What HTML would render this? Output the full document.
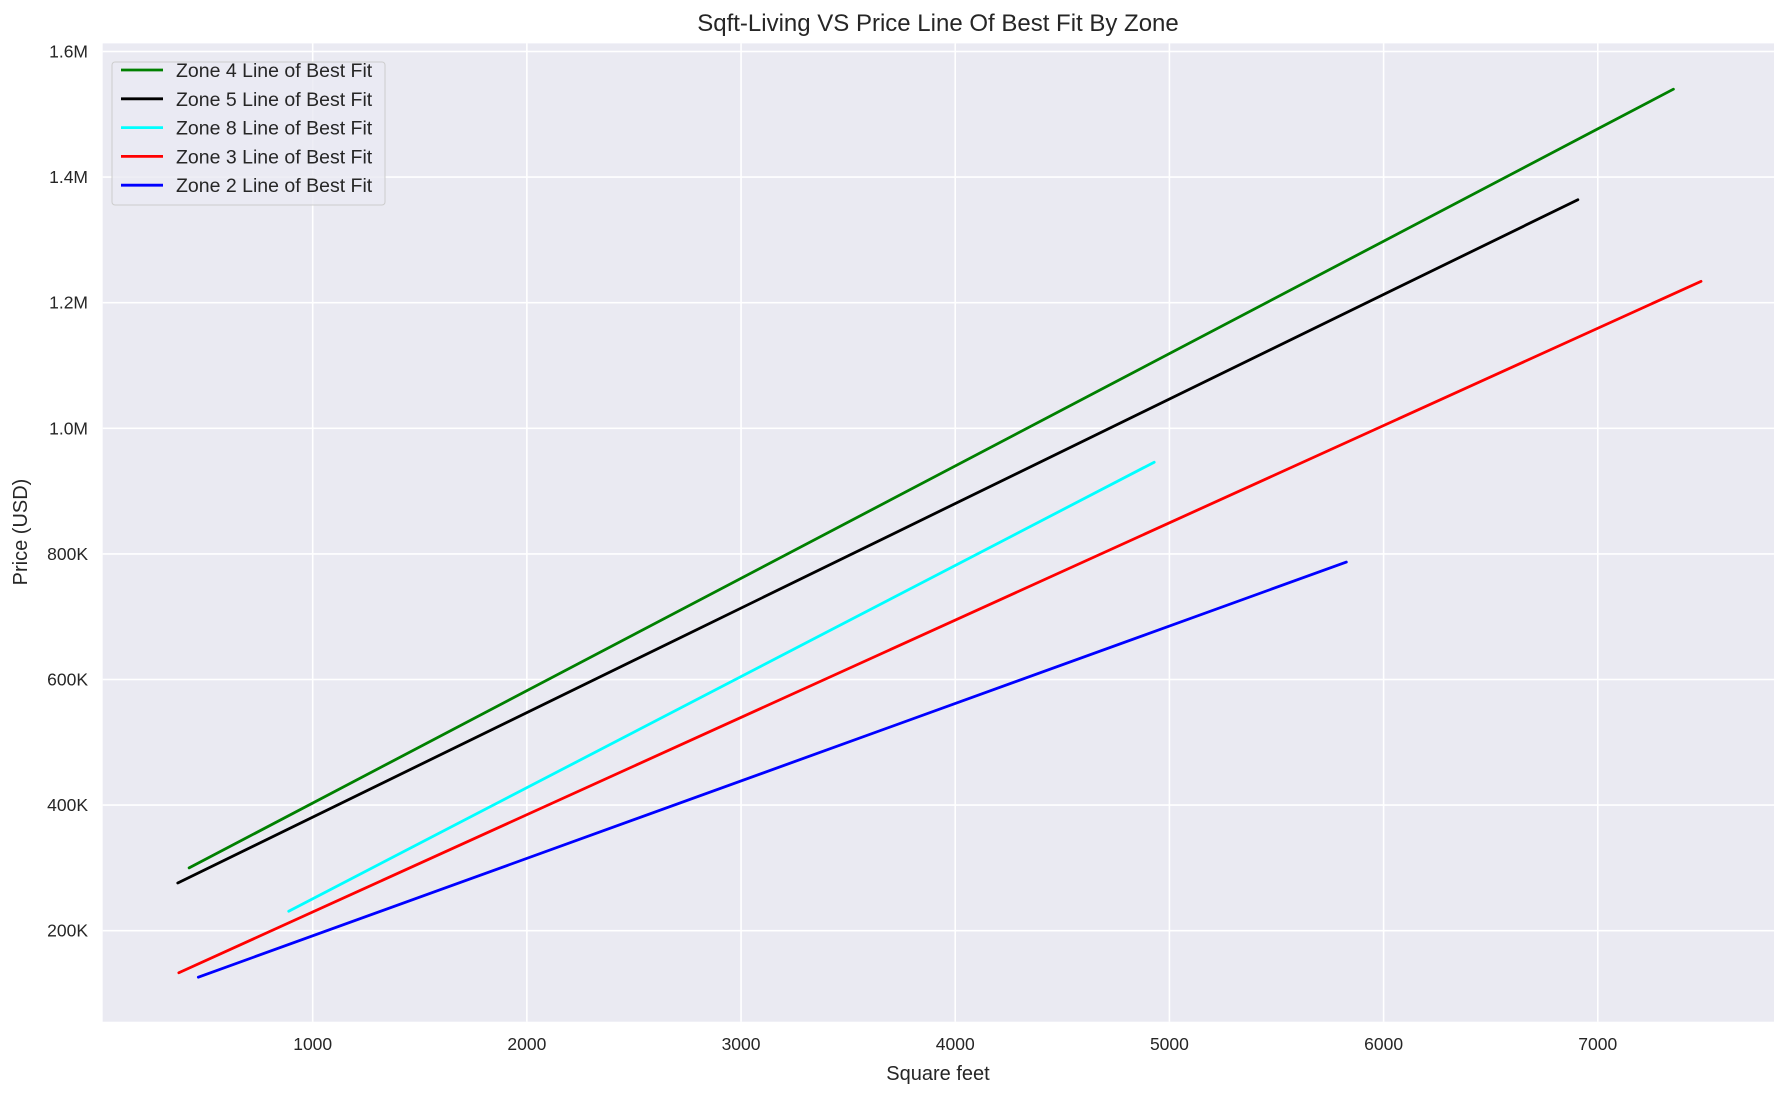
<!DOCTYPE html>
<html><head><meta charset="utf-8">
<style>
html,body{margin:0;padding:0;background:#fff;}
svg{display:block;font-family:"Liberation Sans",Arial,sans-serif;}
</style></head>
<body>
<svg id="chart" width="1790" height="1097" viewBox="0 0 1790 1097" xmlns="http://www.w3.org/2000/svg">
<rect x="102.7" y="43.4" width="1671.3" height="978.3" fill="#eaeaf2"/>
<g id="grid"></g>
<g id="series"></g>
<g id="xticks"></g>
<g id="yticks"></g>
<text x="938" y="31" text-anchor="middle" font-size="24" fill="#262626">Sqft-Living VS Price Line Of Best Fit By Zone</text>
<text x="938" y="1080" text-anchor="middle" font-size="20" fill="#262626">Square feet</text>
<text transform="translate(27,532) rotate(-90)" text-anchor="middle" font-size="20" fill="#262626">Price (USD)</text>
<g id="legend">
<rect x="112" y="62" width="273" height="143" rx="3" fill="#eaeaf2" fill-opacity="0.8" stroke="#cccccc" stroke-width="1"/>
</g>
</svg>
<script>
const zones = ["Zone 4 Line of Best Fit","Zone 5 Line of Best Fit","Zone 8 Line of Best Fit","Zone 3 Line of Best Fit","Zone 2 Line of Best Fit"];
const colors = ["green","black","cyan","red","blue"];
const xStart = [423, 370, 888, 375, 466];
const xEnd = [7353, 6907, 4929, 7482, 5826];
const yStart = [300000, 276000, 231000, 133000, 126000];
const yEnd = [1540000, 1364000, 946000, 1234000, 787000];
const xTicks = [1000,2000,3000,4000,5000,6000,7000];
const yTicks = [200000,400000,600000,800000,1000000,1200000,1400000,1600000];
const yTickLabels = ["200K","400K","600K","800K","1.0M","1.2M","1.4M","1.6M"];

const NS="http://www.w3.org/2000/svg";
const L=102.7,R=1774,T=43.4,B=1021.7;
function sx(v){return 312.7+(v-1000)*0.21418;}
function sy(v){return 930.7-(v-200000)*(125.6/200000);}
function mk(tag,attrs,parent){const e=document.createElementNS(NS,tag);for(const k in attrs)e.setAttribute(k,attrs[k]);parent.appendChild(e);return e;}
const grid=document.getElementById('grid'),xt=document.getElementById('xticks'),yt=document.getElementById('yticks');
xTicks.forEach(v=>{
  const g=mk('line',{x1:sx(v),x2:sx(v),y1:T,y2:B,stroke:'#fff','stroke-width':1.6},grid);
  
  
  const t=mk('text',{x:sx(v),y:1050,'text-anchor':'middle','font-size':17.5,fill:'#262626'},xt);
  t.textContent=v;
  
  
});
yTicks.forEach((v,i)=>{
  const g=mk('line',{x1:L,x2:R,y1:sy(v),y2:sy(v),stroke:'#fff','stroke-width':1.6},grid);
  
  
  const t=mk('text',{x:88,y:sy(v)+6,'text-anchor':'end','font-size':17.5,fill:'#262626'},yt);
  t.textContent=yTickLabels[i];
  
  
});
const ser=document.getElementById('series'),leg=document.getElementById('legend');
zones.forEach((z,i)=>{
  const l=mk('line',{x1:sx(xStart[i]),y1:sy(yStart[i]),x2:sx(xEnd[i]),y2:sy(yEnd[i]),stroke:colors[i],'stroke-width':2.8,'stroke-linecap':'round'},ser);
  
  
  const y=70+i*28.8;
  const ls=mk('line',{x1:121,x2:163,y1:y,y2:y,stroke:colors[i],'stroke-width':2.8},leg);
  
  
  const t=mk('text',{x:176,y:y+7,'font-size':19.5,fill:'#262626'},leg);
  t.textContent=z;
  
  
});
</script>
</body></html>
